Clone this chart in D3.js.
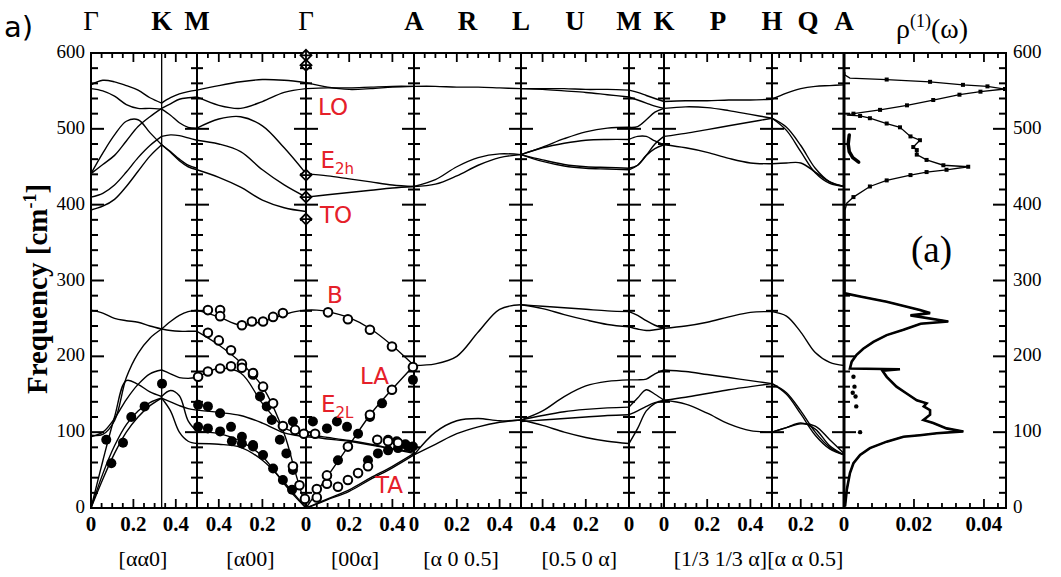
<!DOCTYPE html>
<html><head><meta charset="utf-8">
<script src="https://cdn.jsdelivr.net/npm/d3@7/dist/d3.min.js"></script>
<style>html,body{margin:0;padding:0;background:#fff;}svg{display:block}</style>
</head><body>
<svg id="chart" width="1061" height="577"></svg>
<script>
// ---------------- data ----------------
const pointNames = ["Γ","K","M","Γ","A","R","L","U","M","K","P","H","Q","A"];
const pointPos   = [0, 1/3, 0.5, 1.0, 1.5, 1.75, 2.0, 2.25, 2.5, 2.662, 2.912, 3.162, 3.328, 3.495];
const boundaryPos = [0.5, 1.0, 1.5, 2.0, 2.5, 2.662, 3.162, 3.495];
const directionLabels = ["[αα0]","[α00]","[00α]","[α 0 0.5]","[0.5 0 α]","[1/3 1/3 α][α α 0.5]"];
const directionPos = [0.245, 0.745, 1.227, 1.72, 2.27, 3.1];
const kTickLabels = [[0,"0"],[0.2,"0.2"],[0.4,"0.4"],[0.6,"0.4"],[0.8,"0.2"],[1.0,"0"],[1.2,"0.2"],[1.4,"0.4"],[1.5,"0"],
  [1.7,"0.2"],[1.9,"0.4"],[2.1,"0.4"],[2.3,"0.2"],[2.5,"0"],[2.662,"0"],[2.862,"0.2"],[3.062,"0.4"],[3.295,"0.2"],[3.495,"0"]];
const freqTickLabels = [0,100,200,300,400,500,600];
const dosTickLabels = [[0.02,"0.02"],[0.04,"0.04"]];
// segment definitions for the k-axis minor ticks: [start, end, zero end]
const kSegments = [[0,0.5,0],[0.5,1.0,1.0],[1.0,1.5,1.0],[1.5,2.0,1.5],[2.0,2.5,2.5],[2.5,2.662,2.5],[2.662,3.162,2.662],[3.162,3.495,3.495]];

// ---- dispersion branches: sample positions + frequencies (cm^-1) ----
const sGK = [0, 0.0556, 0.111, 0.1667, 0.222, 0.278, 0.3333];
const gkHigh = [
  [558,564,562,557,551,541,534],
  [553,550,543,532,527,527,526],
  [441,453,465,484,503,516,527],
  [441,468,492,510,512,495,479],
  [410,415,426,443,462,478,490],
  [393,398,407,424,444,464,479]];
const gkLow = [
  [261,257,250,247,245,240,236],
  [96,97,115,172,204,224,236],
  [94,100,118,143,163,177,182],
  [0,62,120,168,163,153,147],
  [0,45,82,110,128,139,145],
  [0,38,72,100,120,135,145]];

const sKM = [0.3333, 0.375, 0.4167, 0.4583, 0.5];
const kmHigh = [
  [534,541,546,549,551],
  [527,533,539,541,542],
  [526,518,508,502,501],
  [490,492,491,488,485],
  [479,469,458,450,446],
  [479,470,460,452,448]];
const kmLow = [
  [236,246,254,259,261],
  [236,234,233,233,233],
  [182,177,172,171,172],
  [147,155,148,115,101],
  [145,140,135,131,129],
  [145,128,100,88,85]];

const sMG = [0.5, 0.6, 0.7, 0.8, 0.9, 1.0];
const mgHigh = [
  [551,557,562,565,564,561],
  [542,531,527,536,548,553],
  [501,513,516,504,475,441],
  [485,480,470,446,426,410],
  [446,436,423,406,396,391]];
const sMGlow = [0.5, 0.6, 0.7, 0.8, 0.9, 0.95, 1.0];
const mgLow = [
  [261,252,241,246,255,259,261],
  [233,215,192,160,98,48,0],
  [172,184,178,138,106,100,96],
  [129,126,122,112,99,96,94],
  [101,98,88,68,32,15,0],
  [85,84,80,63,34,17,0]];

const sGA = [1.0, 1.1, 1.2, 1.3, 1.4, 1.5];
const gaHigh = [
  [561,555,552,553,555,556],
  [553,554,554,555,556,556],
  [441,438,434,430,426,424],
  [410,413,416,419,422,424]];
const sGAlow = [1.0, 1.05, 1.1, 1.2, 1.3, 1.4, 1.5];
const gaLow = [
  [261,261,259,251,236,214,188],
  [0,21,42,83,124,157,188],
  [96,95,93,89,84,78,72],
  [94,93,91,88,83,78,74],
  [0,6,12,24,40,55,72],
  [0,5,11,22,38,53,70]];

const sAL = [1.5, 1.6, 1.7, 1.8, 1.9, 2.0];
const alHigh = [
  [556,556,555,555,554,553],
  [424,433,450,462,467,466],
  [424,427,438,452,462,466]];
const alLow = [
  [188,190,200,232,262,268],
  [70,100,115,118,115,116],
  [70,84,98,107,113,116]];

const sLM = [2.0, 2.1, 2.2, 2.3, 2.4, 2.5];
const lmHigh = [
  [553,553,553,552,552,551],
  [553,552,550,548,545,542],
  [466,476,487,496,501,502],
  [466,475,481,485,486,486],
  [466,459,453,450,449,448],
  [466,457,451,448,447,446]];
const lmLow = [
  [268,266,264,262,260,259],
  [268,263,255,248,242,239],
  [116,128,147,161,167,169],
  [116,122,127,130,132,133],
  [116,109,100,93,88,85],
  [114,116,118,120,122,123]];

const sMK = [2.5, 2.54, 2.58, 2.62, 2.662];
const mkHigh = [
  [551,548,544,540,536],
  [542,538,534,530,527],
  [502,503,512,522,527],
  [486,490,490,484,479],
  [448,452,465,480,490],
  [446,452,465,474,479]];
const mkLow = [
  [259,254,247,241,237],
  [239,236,234,235,237],
  [169,169,170,177,182],
  [133,145,156,150,142],
  [85,105,128,138,142],
  [123,128,134,139,142]];

const sKH = [2.662, 2.762, 2.862, 2.962, 3.062, 3.162];
const khHigh = [
  [536,537,537,538,538,539],
  [527,529,528,524,519,514],
  [490,494,499,504,509,514],
  [479,475,469,461,455,454]];
const khLow = [
  [237,240,245,252,258,259],
  [182,180,176,172,168,164],
  [142,146,151,156,160,164],
  [142,137,125,111,102,100]];

const sHA = [3.162, 3.229, 3.295, 3.362, 3.429, 3.495];
const haHigh = [
  [539,547,553,556,557,558],
  [514,502,478,448,430,424],
  [514,498,470,442,428,424],
  [454,455,455,443,430,424]];
const haLow = [
  [259,253,232,205,192,188],
  [164,152,128,100,80,70],
  [164,150,124,96,78,70],
  [100,106,112,104,82,70],
  [100,106,111,108,90,72]];

// ---- experimental points [s, freq] ----
const expFilled = [
  [0.072,90],[0.096,59],[0.151,86],[0.19,120],[0.253,134],[0.335,164],
  [0.505,136],[0.55,134],[0.606,125],[0.656,107],[0.706,94],[0.757,83],[0.803,70],[0.849,52],[0.894,37],[0.936,24],
  [0.505,107],[0.55,105],[0.606,101],[0.66,88],[0.706,85],[0.757,81],
  [0.789,147],[0.82,134],[0.843,116],[0.88,90],[0.91,72],[0.94,50],
  [0.94,114],[1.032,114],[1.097,105],[1.143,114],[1.19,107],
  [1.148,63],[1.241,98],[1.296,120],[1.352,138],[1.495,169],
  [1.287,63],[1.333,72],[1.38,76],[1.426,79],[1.472,81],[1.495,81],
  [1.38,90],[1.42,88],[1.46,84]];
const expOpen = [
  [0.55,261],[0.606,261],[0.606,253],[0.706,241],[0.752,246],[0.803,246],[0.849,252],[0.894,257],
  [1.102,258],[1.194,249],[1.296,235],[1.398,213],[1.495,186],
  [0.55,231],[0.60,221],[0.656,208],[0.706,190],[0.757,176],[0.803,160],[0.849,138],[0.894,108],[0.94,55],[0.97,30],[0.995,12],
  [0.505,173],[0.55,180],[0.606,184],[0.656,187],[0.706,185],[0.757,178],
  [0.95,103],[0.99,98],[1.042,98],
  [1.05,14],[1.097,32],[1.148,28],[1.194,37],[1.241,46],[1.287,55],
  [1.05,25],[1.097,43],[1.194,81],[1.296,123],[1.398,156],
  [1.33,90],[1.38,88],[1.426,86]];
const expDiamond = [[1.0,597],[1.0,584],[1.0,439],[1.0,410],[1.0,381]];

// ---- mode labels ----
const modeNames = ["LO","E","TO","B","LA","E","TA"];
const modeSubs  = ["","2h","","","","2L",""];
const modeS     = [1.056,1.067,1.065,1.097,1.25,1.069,1.319];
const modeFreq  = [518,448,376,270,164,127,20];

// ---- density of states rho(1)(w): [freq, value] ----
const dosCurve = [
  [575,0.0002],[571,0.0003],[567,0.0017],[565,0.0122],[562,0.0246],[558,0.034],[556,0.041],[552.5,0.046],[549,0.039],
  [545,0.033],[538,0.0255],[531,0.018],[525,0.0103],[520,0.0027],[518,0.0008],
  [517,0.0046],[514,0.0074],[507,0.0122],[502,0.016],[490,0.019],[485,0.0217],[476,0.0198],[472,0.0208],[466,0.0208],
  [459,0.0236],[452,0.0284],[450,0.0355],[446,0.0293],[443,0.0236],[439,0.019],[432,0.0122],[424,0.0074],[410,0.0027],
  [402,0.0008],[393,0.0003],[300,0.0003],
  [283,0.0003],[279,0.0046],[272,0.0122],[261,0.0217],[257,0.0246],[254,0.019],[246,0.0298],[243,0.0219],[235,0.017],
  [228,0.0122],[219,0.0084],[210,0.0055],[202,0.0036],[193,0.0022],[184,0.0017],[183,0.016],[181,0.011],[173,0.0122],
  [160,0.015],[151,0.0179],[142,0.0208],[138,0.0236],[134,0.0228],[129,0.0246],[123,0.0246],[116,0.0227],[112,0.0255],
  [105,0.0293],[101,0.0341],[98.5,0.0265],[96,0.0217],[94,0.017],[87.5,0.0122],[79,0.0074],[70,0.0046],[59,0.0027],
  [46,0.0017],[24,0.0008],[2,0.0003]];
const dosArc = [[492,0.0015],[480,0.0012],[470,0.0015],[462,0.0025],[456,0.0042]];
const dosDots = [[173,0.0027],[160,0.003],[147,0.0033],[134,0.0035],[100,0.0046],[152,0.0025]];

// ---------------- drawing ----------------
const svg = d3.select("#chart");
const X0 = 91, X1 = 1006, Y0 = 53, Y1 = 508;
const x = d3.scaleLinear()
  .domain([0, 0.5, 1.0, 1.5, 2.0, 2.5, 2.662, 3.162, 3.495])
  .range([91, 197, 306, 414, 521, 629, 664, 772, 844]);
const y = d3.scaleLinear().domain([0, 600]).range([Y1, Y0]);
const xd = d3.scaleLinear().domain([0, 0.0463]).range([844, 1006]);
const serif = "'Liberation Serif','Times New Roman',serif";
const sans = "'DejaVu Sans',sans-serif";
const red = "#e5202a";

const gAxes = svg.append("g");
gAxes.append("rect").attr("x", X0).attr("y", Y0).attr("width", X1 - X0).attr("height", Y1 - Y0)
  .attr("fill", "none").attr("stroke", "#000").attr("stroke-width", 2);

const fTicks = d3.range(20, 600, 20);
fTicks.forEach(f => {
  const L = f % 100 === 0 ? 13 : 7;
  gAxes.append("line").attr("x1", X0).attr("x2", X0 + L).attr("y1", y(f)).attr("y2", y(f)).attr("stroke", "#000").attr("stroke-width", 2);
  gAxes.append("line").attr("x1", X1).attr("x2", X1 - L).attr("y1", y(f)).attr("y2", y(f)).attr("stroke", "#000").attr("stroke-width", 2);
});
gAxes.append("line").attr("x1", x(1/3)).attr("x2", x(1/3)).attr("y1", Y0).attr("y2", Y1).attr("stroke", "#000").attr("stroke-width", 1.3);
boundaryPos.forEach((s, i) => {
  const bx = x(s);
  gAxes.append("line").attr("x1", bx).attr("x2", bx).attr("y1", Y0).attr("y2", Y1)
    .attr("stroke", "#000").attr("stroke-width", i === boundaryPos.length - 1 ? 3 : 2);
  fTicks.forEach(f => {
    const L = f % 100 === 0 ? 12 : 6;
    gAxes.append("line").attr("x1", bx - L).attr("x2", bx + L).attr("y1", y(f)).attr("y2", y(f)).attr("stroke", "#000").attr("stroke-width", 2);
  });
});
kSegments.forEach(([a, b, z]) => {
  const dir = z === a ? 1 : -1;
  const len = Math.abs(b - a);
  for (let k = 1; k * 0.05 < len - 0.01; k++) {
    const s = z + dir * k * 0.05;
    const L = (k % 4 === 0) ? 9 : 5;
    gAxes.append("line").attr("x1", x(s)).attr("x2", x(s)).attr("y1", Y1).attr("y2", Y1 - L).attr("stroke", "#000").attr("stroke-width", 1.8);
    gAxes.append("line").attr("x1", x(s)).attr("x2", x(s)).attr("y1", Y0).attr("y2", Y0 + L).attr("stroke", "#000").attr("stroke-width", 1.8);
  }
});
d3.range(1, 12).forEach(k => {
  const v = k * 0.004;
  if (xd(v) > X1 - 2) return;
  const L = (k % 5 === 0) ? 9 : 5;
  gAxes.append("line").attr("x1", xd(v)).attr("x2", xd(v)).attr("y1", Y1).attr("y2", Y1 - L).attr("stroke", "#000").attr("stroke-width", 1.8);
  gAxes.append("line").attr("x1", xd(v)).attr("x2", xd(v)).attr("y1", Y0).attr("y2", Y0 + L).attr("stroke", "#000").attr("stroke-width", 1.8);
});

// axis labels
freqTickLabels.forEach(f => {
  svg.append("text").attr("x", 85).attr("y", y(f) + 5).attr("text-anchor", "end")
    .attr("font-family", serif).attr("font-size", 19).text(f);
  svg.append("text").attr("x", 1013).attr("y", y(f) + 5).attr("text-anchor", "start")
    .attr("font-family", serif).attr("font-size", 19).text(f);
});
kTickLabels.forEach(([s, t]) => {
  svg.append("text").attr("x", x(s)).attr("y", 531).attr("text-anchor", "middle")
    .attr("font-family", serif).attr("font-size", 21).attr("font-weight", "bold").text(t);
});
dosTickLabels.forEach(([v, t]) => {
  svg.append("text").attr("x", xd(v)).attr("y", 531).attr("text-anchor", "middle")
    .attr("font-family", serif).attr("font-size", 21).attr("font-weight", "bold").text(t);
});
directionLabels.forEach((t, i) => {
  svg.append("text").attr("x", x(directionPos[i])).attr("y", 566).attr("text-anchor", "middle")
    .attr("font-family", serif).attr("font-size", 22).text(t);
});
pointNames.forEach((t, i) => {
  svg.append("text").attr("x", x(pointPos[i])).attr("y", 30).attr("text-anchor", "middle")
    .attr("font-family", serif).attr("font-size", 27).attr("font-weight", t === "Γ" ? "normal" : "bold").text(t);
});
const rho = svg.append("text").attr("x", 896).attr("y", 38).attr("font-family", serif).attr("font-size", 28);
rho.append("tspan").text("ρ");
rho.append("tspan").attr("dy", -11).attr("font-size", 18).text("(1)");
rho.append("tspan").attr("dy", 11).text("(ω)");
svg.append("text").attr("x", 4).attr("y", 37).attr("font-family", sans).attr("font-size", 29).text("a)");
const yt = svg.append("text").attr("transform", "translate(47,289) rotate(-90)").attr("text-anchor", "middle")
  .attr("font-family", serif).attr("font-size", 29).attr("font-weight", "bold");
yt.append("tspan").text("Frequency [cm");
yt.append("tspan").attr("dy", -11).attr("font-size", 18).text("-1");
yt.append("tspan").attr("dy", 11).text("]");
svg.append("text").attr("x", 911).attr("y", 262).attr("font-family", serif).attr("font-size", 37).text("(a)");

// dispersion curves
const gCurves = svg.append("g").attr("fill", "none").attr("stroke", "#000").attr("stroke-width", 1.4);
function drawBranches(sArr, branches) {
  const line = d3.line().x((d, i) => x(sArr[i])).y(d => y(d)).curve(d3.curveCatmullRom.alpha(0.5));
  branches.forEach(b => gCurves.append("path").attr("d", line(b)));
}
drawBranches(sGK, gkHigh); drawBranches(sGK, gkLow);
drawBranches(sKM, kmHigh); drawBranches(sKM, kmLow);
drawBranches(sMG, mgHigh); drawBranches(sMGlow, mgLow);
drawBranches(sGA, gaHigh); drawBranches(sGAlow, gaLow);
drawBranches(sAL, alHigh); drawBranches(sAL, alLow);
drawBranches(sLM, lmHigh); drawBranches(sLM, lmLow);
drawBranches(sMK, mkHigh); drawBranches(sMK, mkLow);
drawBranches(sKH, khHigh); drawBranches(sKH, khLow);
drawBranches(sHA, haHigh); drawBranches(sHA, haLow);

// DOS
const dosLine = d3.line().x(d => xd(d[1])).y(d => y(d[0]));
svg.append("path").attr("d", dosLine(dosCurve)).attr("fill", "none").attr("stroke", "#000").attr("stroke-width", 1.3);
svg.append("path").attr("d", dosLine(dosCurve.filter(d => d[0] < 290))).attr("fill", "none").attr("stroke", "#000").attr("stroke-width", 2.6);
svg.append("path").attr("d", dosLine(dosArc)).attr("fill", "none").attr("stroke", "#000").attr("stroke-width", 3.5).attr("stroke-linecap", "round");
svg.append("g").selectAll("rect").data(dosCurve.filter(d => d[0] > 380 && d[1] > 0.002)).join("rect")
  .attr("x", d => xd(d[1]) - 2).attr("y", d => y(d[0]) - 2).attr("width", 4).attr("height", 4).attr("fill", "#000");
svg.append("g").selectAll("circle").data(dosDots).join("circle")
  .attr("cx", d => xd(d[1])).attr("cy", d => y(d[0])).attr("r", 2.2).attr("fill", "#000");

// experimental markers
svg.append("g").selectAll("circle").data(expFilled).join("circle")
  .attr("cx", d => x(d[0])).attr("cy", d => y(d[1])).attr("r", 5).attr("fill", "#000");
svg.append("g").selectAll("circle").data(expOpen).join("circle")
  .attr("cx", d => x(d[0])).attr("cy", d => y(d[1])).attr("r", 4.3).attr("fill", "#fff").attr("stroke", "#000").attr("stroke-width", 2);
const gd = svg.append("g").attr("stroke", "#000").attr("stroke-width", 1.8).attr("fill", "none");
expDiamond.forEach(([s, f]) => {
  const cx = x(s), cy = y(f), r = 5.5;
  gd.append("path").attr("d", `M${cx},${cy - r}L${cx + r},${cy}L${cx},${cy + r}L${cx - r},${cy}Z`).attr("fill", "#fff");
  gd.append("path").attr("d", `M${cx - r},${cy}H${cx + r}M${cx},${cy - r}V${cy + r}`);
});

// mode labels
modeNames.forEach((t, i) => {
  const tx = svg.append("text").attr("x", x(modeS[i])).attr("y", y(modeFreq[i]))
    .attr("font-family", sans).attr("font-size", 23).attr("fill", red).text(t);
  if (modeSubs[i]) tx.append("tspan").attr("dy", 6).attr("font-size", 15).text(modeSubs[i]);
});
</script>
</body></html>
